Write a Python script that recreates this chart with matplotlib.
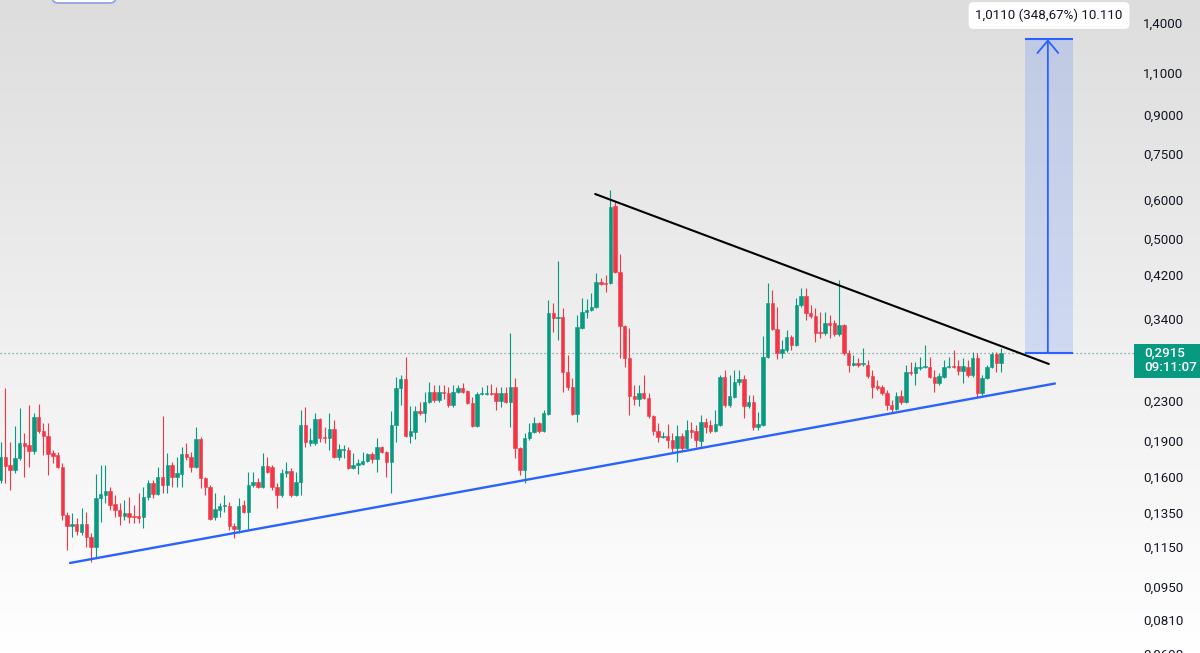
import numpy as np
import matplotlib
matplotlib.use('Agg')
import matplotlib.pyplot as plt
from matplotlib.colors import LinearSegmentedColormap
from matplotlib.patches import Rectangle, FancyBboxPatch
from matplotlib.transforms import IdentityTransform

plt.rcParams['font.family'] = ['Roboto', 'DejaVu Sans']

# ─────────────────────────────────────────────────────────────
# DATOS (velas, escala logarítmica)
# ─────────────────────────────────────────────────────────────
opens = [
    .1590, .1774, .1708, .1667, .1766, .1897, .1879, .1825, .2147, .2008,
    .1961, .1808, .1791, .1691, .1345, .1276, .1289, .1240, .1289, .1211,
    .1155, .1459, .1480, .1508, .1418, .1378, .1339, .1358, .1339, .1339,
    .1332, .1466, .1567, .1487, .1613, .1552, .1708, .1613, .1636, .1800,
    .1774, .1691, .1933, .1605, .1537, .1332, .1378, .1404, .1404, .1276,
    .1258, .1411, .1365, .1552, .1575, .1537, .1699, .1691, .1537, .1480,
    .1644, .1659, .1480, .1575, .2067, .1897, .1897, .2127, .1952, .1942,
    .2028, .1774, .1834, .1834, .1683, .1708, .1716, .1740, .1800, .1757,
    .1861, .1817, .1732, .2067, .2466, .2574, .1961, .1999, .2209, .2188,
    .2306, .2419, .2328, .2419, .2407, .2274, .2419, .2466, .2431, .2295,
    .2057, .2396, .2396, .2407, .2407, .2317, .2407, .2306, .2477, .1852,
    .1667, .1942, .1999, .2086, .2008, .2178, .3526, .3443, .3460, .2661,
    .2477, .2178, .3283, .3543, .3577, .3629, .4088, .4069, .4069, .5875,
    .4288, .3314, .2845, .2373, .2340, .2407, .2351, .2157, .2008, .1952,
    .1961, .1924, .1852, .1961, .1852, .2018, .2008, .1915, .2096, .2067,
    .2008, .2067, .2598, .2274, .2362, .2537, .2574, .2263, .2306, .2047,
    .2067, .2859, .3699, .3267, .2914, .2956, .3145, .3027, .3663, .3824,
    .3526, .3476, .3221, .3205, .3362, .3362, .3190, .3330, .2914, .2752,
    .2778, .2765, .2752, .2611, .2489, .2477, .2407, .2274, .2231, .2373,
    .2306, .2661, .2649, .2712, .2725, .2725, .2598, .2525, .2598, .2725,
    .2738, .2738, .2674, .2725, .2623, .2845, .2407, .2586, .2725, .2900,
    .2778,
]
closes = [
    .1774, .1699, .1667, .1766, .1897, .1870, .1825, .2147, .2008, .1961,
    .1800, .1782, .1691, .1345, .1276, .1289, .1246, .1289, .1211, .1155,
    .1459, .1487, .1508, .1411, .1378, .1339, .1358, .1332, .1332, .1326,
    .1466, .1567, .1487, .1613, .1552, .1708, .1613, .1644, .1800, .1774,
    .1691, .1933, .1605, .1537, .1320, .1384, .1404, .1411, .1276, .1258,
    .1404, .1365, .1552, .1575, .1537, .1699, .1651, .1537, .1480, .1644,
    .1659, .1480, .1575, .2067, .1906, .1924, .2127, .1942, .1942, .2028,
    .1774, .1843, .1843, .1683, .1708, .1724, .1740, .1800, .1757, .1861,
    .1817, .1732, .2067, .2466, .2574, .1961, .2008, .2209, .2188, .2306,
    .2419, .2328, .2419, .2407, .2274, .2419, .2466, .2419, .2295, .2057,
    .2396, .2407, .2407, .2396, .2317, .2407, .2306, .2477, .1852, .1667,
    .1942, .1999, .2086, .2008, .2188, .3526, .3443, .3460, .2661, .2477,
    .2178, .3299, .3543, .3577, .3629, .4088, .4050, .4050, .5847, .4288,
    .3314, .2845, .2373, .2340, .2407, .2351, .2157, .2008, .1952, .1961,
    .1924, .1852, .1961, .1852, .2018, .1999, .1924, .2096, .2047, .2008,
    .2077, .2598, .2274, .2373, .2537, .2574, .2263, .2306, .2047, .2077,
    .2859, .3699, .3267, .2914, .2970, .3145, .3027, .3663, .3824, .3526,
    .3476, .3205, .3205, .3362, .3330, .3190, .3330, .2914, .2752, .2778,
    .2752, .2778, .2611, .2477, .2466, .2407, .2274, .2231, .2373, .2306,
    .2661, .2649, .2725, .2725, .2738, .2598, .2525, .2611, .2725, .2738,
    .2725, .2674, .2738, .2623, .2845, .2407, .2586, .2725, .2900, .2778,
    .2915,
]
highs = [
    .1906, .2466, .1906, .2057, .2241, .1989, .2274, .2188, .2284, .2086,
    .2086, .1834, .1817, .1724, .1365, .1358, .1326, .1391, .1365, .1235,
    .1636, .1708, .1708, .1537, .1480, .1424, .1445, .1466, .1411, .1494,
    .1537, .1590, .1590, .1691, .2157, .1808, .1732, .1774, .1861, .1897,
    .1817, .2047, .1952, .1613, .1552, .1494, .1424, .1480, .1431, .1295,
    .1459, .1445, .1651, .1651, .1605, .1808, .1774, .1708, .1567, .1675,
    .1732, .1683, .1651, .2220, .2252, .2037, .2188, .2137, .2047, .2188,
    .2117, .1888, .1879, .1861, .1808, .1757, .1817, .1808, .1817, .1942,
    .1870, .1825, .2209, .2598, .2623, .2859, .2263, .2263, .2306, .2419,
    .2537, .2501, .2501, .2501, .2477, .2501, .2501, .2525, .2442, .2362,
    .2419, .2477, .2501, .2513, .2477, .2477, .2477, .3205, .2586, .1861,
    .1989, .2086, .2147, .2096, .2220, .3752, .3699, .4519, .3611, .2886,
    .2586, .3493, .3788, .3770, .3879, .4268, .4167, .4227, .6341, .5988,
    .4673, .3330, .3283, .2501, .2501, .2623, .2407, .2168, .2086, .1999,
    .2077, .1989, .2067, .1989, .2117, .2096, .2067, .2168, .2137, .2117,
    .2220, .2623, .2687, .2623, .2687, .2687, .2623, .2385, .2385, .2199,
    .3160, .4069, .3935, .3629, .3100, .3252, .3175, .3788, .3973, .3973,
    .3663, .3611, .3543, .3543, .3493, .3411, .4128, .3346, .2956, .2886,
    .2845, .2984, .2818, .2687, .2562, .2501, .2442, .2328, .2419, .2442,
    .2752, .2791, .2791, .2859, .3027, .2859, .2687, .2649, .2818, .2859,
    .2956, .2818, .2845, .2818, .2928, .2914, .2623, .2752, .2928, .2928,
    .2984,
]
lows = [
    .1567, .1567, .1516, .1644, .1749, .1613, .1691, .1800, .1989, .1791,
    .1628, .1724, .1683, .1314, .1138, .1211, .1223, .1223, .1155, .1075,
    .1101, .1301, .1424, .1378, .1332, .1283, .1314, .1295, .1295, .1295,
    .1264, .1445, .1459, .1480, .1494, .1494, .1537, .1537, .1537, .1749,
    .1651, .1683, .1530, .1480, .1314, .1314, .1332, .1365, .1252, .1205,
    .1235, .1358, .1252, .1537, .1530, .1530, .1644, .1516, .1391, .1466,
    .1613, .1466, .1473, .1480, .1861, .1870, .1879, .1906, .1897, .1834,
    .1766, .1749, .1766, .1675, .1675, .1636, .1708, .1732, .1724, .1651,
    .1808, .1613, .1494, .1906, .2274, .1952, .1897, .1933, .2168, .2096,
    .2295, .2306, .2306, .2340, .2252, .2252, .2407, .2407, .2284, .2047,
    .2047, .2385, .2385, .2385, .2220, .2252, .2295, .2047, .1766, .1628,
    .1567, .1924, .1989, .1989, .1999, .2168, .3221, .3100, .2419, .2442,
    .2168, .2096, .3267, .3443, .3560, .3611, .4030, .3898, .4050, .4268,
    .2845, .2725, .2168, .2274, .2263, .2340, .2137, .1970, .1906, .1942,
    .1852, .1817, .1732, .1834, .1843, .1942, .1861, .1861, .1989, .1989,
    .1999, .2057, .2252, .2252, .2351, .2501, .2137, .2241, .2018, .2018,
    .2057, .2845, .3252, .2831, .2845, .2928, .2956, .3013, .3629, .3411,
    .3443, .3071, .3130, .3175, .3130, .3160, .3160, .2886, .2661, .2738,
    .2725, .2738, .2586, .2351, .2442, .2385, .2220, .2188, .2220, .2284,
    .2295, .2623, .2501, .2687, .2712, .2586, .2419, .2501, .2586, .2712,
    .2712, .2623, .2525, .2598, .2598, .2362, .2385, .2574, .2712, .2661,
    .2661,
]

# Líneas de tendencia (índice de vela, precio)
support_x = [14.6, 221.3]
support_y = [0.1070, 0.2519]
resist_x = [124.8, 220.0]
resist_y = [0.6221, 0.2765]

# Proyección
move_abs = 1.0110
move_pct = 348.67
move_ticks = "10.110"
last_time = "09:11:07"

y_ticks = [1.4, 1.1, 0.9, 0.75, 0.6, 0.5, 0.42, 0.34, 0.23, 0.19,
           0.16, 0.135, 0.115, 0.095, 0.081, 0.069]

GREEN = '#089981'
RED = '#f23645'
BLUE = '#2962ff'


def fmt(v, nd=4):
    return f"{v:.{nd}f}".replace('.', ',')


o = np.array(opens)
c = np.array(closes)
h = np.array(highs)
l = np.array(lows)
idx = np.arange(len(c))
cols = np.where(c >= o, GREEN, RED)

fig = plt.figure(figsize=(12, 6.53), dpi=100)

# fondo degradado
bg = fig.add_axes([0, 0, 1, 1])
grad = np.linspace(0, 1, 256).reshape(-1, 1)
cmap = LinearSegmentedColormap.from_list('bg', ['#dddddd', '#efefef', '#ffffff'])
bg.imshow(grad, aspect='auto', cmap=cmap, extent=[0, 1, 0, 1])
bg.set_axis_off()

ax = fig.add_axes([0, 0, 1, 1])
ax.patch.set_alpha(0)
ax.set_yscale('log')
ax.set_xlim(-0.105, 251.73)
ax.set_ylim(0.069636, 1.56986)
ax.set_axis_off()

# velas
ax.vlines(idx, l, h, colors=cols, lw=0.8, zorder=3)
ax.bar(idx, np.abs(c - o), bottom=np.minimum(o, c), width=0.72,
       color=cols, edgecolor=cols, lw=0.4, zorder=4)

# línea de precio actual
last = c[-1]
ax.axhline(last, xmin=0, xmax=1134 / 1200, color='#6f9f95', lw=0.9,
           ls=(0, (1, 2.2)), zorder=2)

# tendencias
ax.plot(support_x, support_y, color=BLUE, lw=1.7, zorder=5, solid_capstyle='round')
ax.plot(resist_x, resist_y, color='black', lw=1.5, zorder=5, solid_capstyle='round')

# proyección
target = last + move_abs
px0, px1, pxa = 215.0, 225.1, 219.8
ax.add_patch(Rectangle((px0, last), px1 - px0, target - last,
                       facecolor=BLUE, alpha=0.16, lw=0, zorder=2))
ax.hlines([last, target], px0, px1, color=BLUE, lw=1.5, zorder=5)
ax.annotate('', xy=(pxa, target), xytext=(pxa, last),
            arrowprops=dict(arrowstyle='->,head_length=0.9,head_width=0.75',
                            color=BLUE, lw=1.3, mutation_scale=10,
                            shrinkA=0, shrinkB=0), zorder=6)
label = f"{fmt(move_abs)} ({fmt(move_pct, 2)}%) {move_ticks}"
ax.annotate(label, xy=(220.05, target), xytext=(0, 17), textcoords='offset points',
            ha='center', va='center', fontsize=9.6, color='#131722',
            bbox=dict(boxstyle='round,pad=0.5,rounding_size=0.35', fc='white', ec='none'),
            zorder=7)

# escala de precios
for v in y_ticks:
    ax.text(239.8, v, fmt(v), ha='left', va='center', fontsize=9.6,
            color='#131722', clip_on=False)

ax.add_patch(Rectangle((237.9, 0.2586), 251.73 - 237.9, 0.3042 - 0.2586,
                       facecolor=GREEN, lw=0, zorder=6, clip_on=False))
ax.text(240.0, 0.2914, fmt(last), ha='left', va='center', fontsize=9.6,
        color='white', fontweight='medium', zorder=7)
ax.text(240.0, 0.2718, last_time, ha='left', va='center', fontsize=9.6,
        color='white', fontweight='medium', zorder=7)

# botón cortado arriba a la izquierda
fig.add_artist(FancyBboxPatch((52, 650), 64, 20, boxstyle='round,pad=0,rounding_size=6',
                              transform=IdentityTransform(), fc='white',
                              ec='#8d9ce6', lw=1.2))

fig.savefig('out.png', dpi=100)
